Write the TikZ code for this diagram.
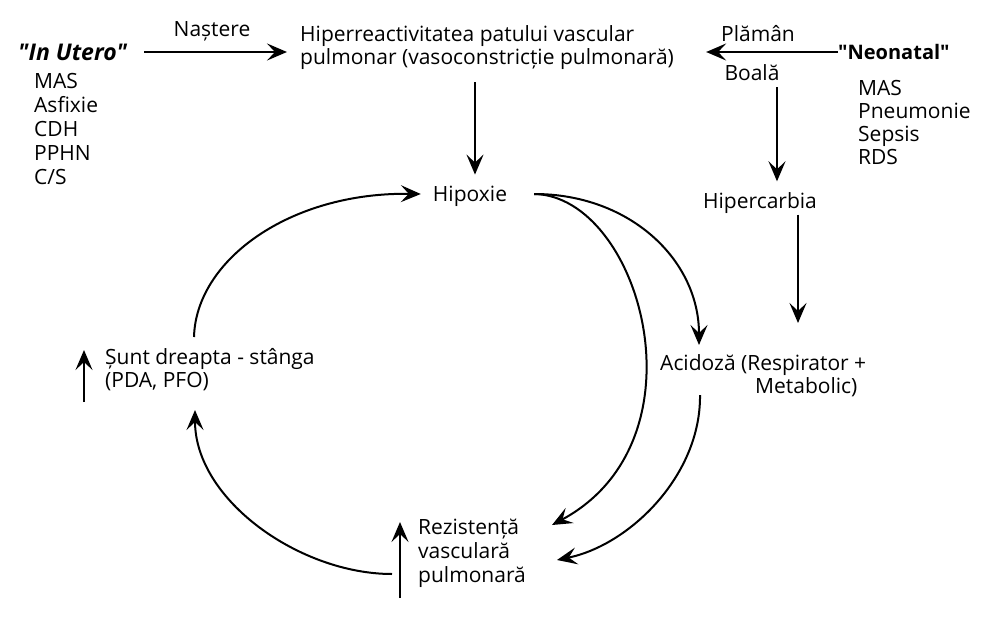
\documentclass[tikz,border=0pt]{standalone}
\usepackage{fontspec}
\setmainfont{Open Sans}
\usetikzlibrary{positioning,arrows.meta}
\tikzstyle{txt}=[%
      inner sep=0pt, align=left, font=\fontsize{21}{23}\selectfont
]
\tikzstyle{lst}=[%
      inner sep=0pt, align=left, font=\fontsize{21}{24}\selectfont
]
\tikzstyle{hd}=[%
      inner sep=0pt, font=\fontsize{20}{24}\selectfont\bfseries
]
\tikzstyle{arr}=[%
      -{Stealth[length=20pt,width=17pt,inset=8pt]}, line width=2pt
]

\begin{document}
\begin{tikzpicture}[x=1pt,y=-1pt]
    \useasboundingbox (0,0) rectangle (996,626);

    \node[hd, anchor=west, font=\fontsize{23}{24}\selectfont\bfseries\itshape]
                                     (utero)  at (18,52)   {\textquotedbl In Utero\textquotedbl};
    \node[lst, anchor=north west]    (ulist)  at (34,73)   {MAS\\Asfixie\\CDH\\PPHN\\C/S};
    \node[txt, anchor=west]          (hiper)  at (300,48)  {Hiperreactivitatea patului vascular\\pulmonar (vasoconstricție pulmonară)};
    \node[txt]                       (nast)   at (212,31)  {Naștere};
    \node[hd, anchor=west]           (neo)    at (838,52)  {\textquotedbl Neonatal\textquotedbl};
    \node[txt, anchor=north west]    (nlist)  at (858,80)  {MAS\\Pneumonie\\Sepsis\\RDS};
    \node[txt]                       (plaman) at (758,34)  {Plămân};
    \node[txt]                       (boala)  at (752,73)  {Boală};
    \node[txt]                       (hipox)  at (470,196) {Hipoxie};
    \node[txt]                       (hiperc) at (760,203) {Hipercarbia};
    \node[txt, anchor=north west]    (acid)   at (660,354) {Acidoză (Respirator +\\\hspace*{95pt}Metabolic)};
    \node[txt, anchor=north west]    (sunt)   at (105,348) {Șunt dreapta - stânga\\(PDA, PFO)};
    \node[lst, anchor=north west]    (rez)    at (418,519) {Rezistență\\vasculară\\pulmonară};

    % straight arrows
    \draw[arr] ([xshift=17pt]utero.east) -- ([xshift=-13pt]hiper.west |- utero.east);
    \draw[arr] (neo.west) -- ([xshift=32pt]hiper.east |- neo.west);
    \draw[arr] ([xshift=5pt,yshift=-12pt]hipox.north |- hiper.south) -- ([xshift=5pt,yshift=11pt]hipox.north);
    \draw[arr] ([xshift=25pt,yshift=-6pt]boala.south) -- ([xshift=17pt,yshift=11pt]hiperc.north);
    \draw[arr] ([xshift=38pt,yshift=-1pt]hiperc.south) -- ([xshift=38pt,yshift=31pt]hiperc.south |- acid.north);
    \draw[arr] ([xshift=-21pt,yshift=-54pt]sunt.north west) -- ([xshift=-21pt,yshift=-2pt]sunt.north west);
    \draw[arr] ([xshift=-18pt,yshift=-79pt]rez.north west) -- ([xshift=-18pt,yshift=-3pt]rez.north west);

    % the loop
    \draw[arr] ([xshift=27pt,yshift=2pt]hipox.east) .. controls (630,194) and (699,260) .. ([xshift=39pt,yshift=9pt]acid.north west);
    \draw[arr] ([xshift=27pt,yshift=2pt]hipox.east) .. controls (640,196) and (710,440) .. ([xshift=134pt,yshift=-6pt]rez.north west);
    \draw[arr] ([xshift=40pt,yshift=-41pt]acid.north west) .. controls (701,475) and (630,545) .. ([xshift=139pt,yshift=-41pt]rez.north west);
    \draw[arr] ([xshift=-26pt,yshift=-55pt]rez.north west) .. controls (300,574) and (195,500) .. ([xshift=90pt,yshift=-62pt]sunt.north west);
    \draw[arr] ([xshift=89pt,yshift=11pt]sunt.north west) .. controls (196,260) and (290,192) .. ([xshift=-12pt,yshift=2pt]hipox.west);
\end{tikzpicture}
\end{document}
